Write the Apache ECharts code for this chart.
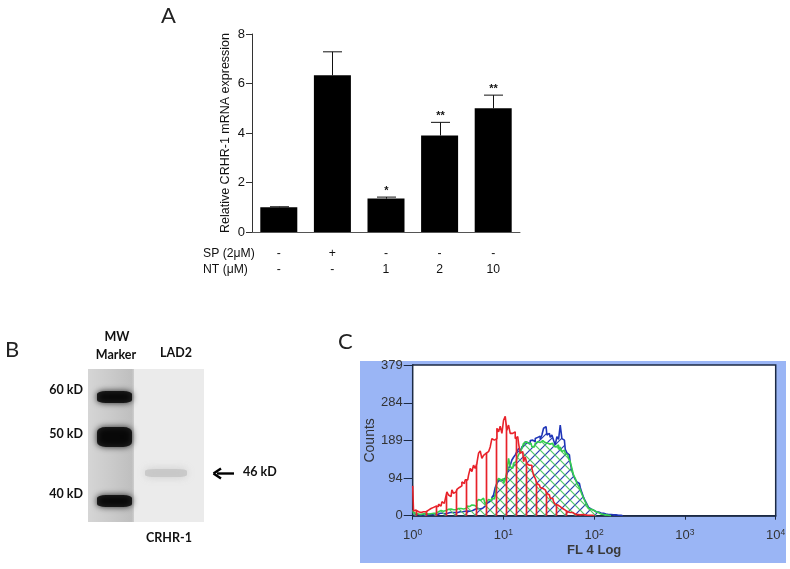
<!DOCTYPE html>
<html>
<head>
<meta charset="utf-8">
<style>html,body{margin:0;padding:0;background:#fff}#c{width:790px;height:569px}</style>
<script src="https://cdn.jsdelivr.net/npm/echarts@6/dist/echarts.min.js"></script>
</head>
<body>
<div id="c"></div>
<script>
// Panel A
const spRow = ['-', '+', '-', '-', '-'];
const ntRow = ['-', '-', '1', '2', '10'];
const meanExpr = [1.0, 6.33, 1.35, 3.9, 5.0];
const errTop = [1.02, 7.28, 1.41, 4.43, 5.53];
const stars = ['', '', '*', '**', '**'];
const exprTicks = [0, 2, 4, 6, 8];

// Panel C: histogram counts, one per bin
const binWidthDecades = 0.01837;
const redCounts = [75,12,14,10,12,8,10,13,10,14,10,18,21,16,24,23,29,24,35,31,41,60,52,48,65,56,60,66,71,75,85,81,90,90,102,119,111,127,119,132,157,163,144,152,157,161,165,173,194,190,194,220,211,225,207,240,250,215,228,207,207,211,194,199,182,157,161,136,148,131,127,127,119,102,94,81,77,71,69,65,60,56,52,44,44,35,29,27,23,21,18,14,13,10,8,6,8,4,3,3,2,3,3,2,2,1,1,1,1,0];
const blueCounts = [6,3,2,3,2,2,3,2,3,2,3,2,3,3,4,3,6,4,6,5,8,6,8,7,8,8,9,8,10,9,10,11,10,12,11,13,13,16,14,18,17,21,19,24,28,31,35,39,46,52,71,81,90,87,91,90,96,105,119,127,140,147,153,161,169,165,173,178,186,184,180,189,190,186,194,197,200,192,203,220,224,203,207,197,203,190,178,199,192,228,194,190,167,158,153,133,113,100,91,85,81,71,58,46,37,29,21,17,14,13,10,9,8,7,6,4,4,3,3,3,2,2,2,1,1,1,0];
const greenCounts = [14,8,6,4,6,3,5,3,6,4,7,5,6,8,6,10,9,13,11,15,13,16,14,17,15,18,15,18,16,18,17,21,18,24,23,27,23,26,23,35,41,39,44,39,29,35,41,38,44,42,52,85,94,90,93,81,90,111,144,123,119,132,136,144,153,161,169,182,186,182,178,182,173,173,182,186,184,186,189,184,186,182,180,178,182,175,173,178,167,173,161,165,157,153,144,136,119,102,94,81,75,65,54,44,35,27,18,16,14,13,10,8,6,4,3,3,2,1,1,0];
const countTicks = [0, 94, 189, 284, 379];

// Panel B: blot bands, positions inside the membrane
const markerBands = [[26.5, 28], [26.5, 68], [26.5, 132]];
const sampleBand = [[78, 104]];
const markerLabels = ['60 kD', '50 kD', '40 kD'];

const toBins = counts => counts.map((c, i) => [Math.pow(10, i * binWidthDecades), c]);

function hatch(color, kind) {
  const p = 10, cv = document.createElement('canvas');
  cv.width = p; cv.height = p;
  const g = cv.getContext('2d');
  g.strokeStyle = color; g.lineWidth = 1.2;
  g.beginPath();
  if (kind === 'v') { g.lineWidth = 1.7; g.moveTo(6.5, 0); g.lineTo(6.5, p); }
  else if (kind === 'up') { g.moveTo(-1, p + 1); g.lineTo(p + 1, -1); g.moveTo(-1, 1); g.lineTo(1, -1); g.moveTo(p - 1, p + 1); g.lineTo(p + 1, p - 1); }
  else { g.moveTo(-1, -1); g.lineTo(p + 1, p + 1); g.moveTo(p - 1, -1); g.lineTo(p + 1, 1); g.moveTo(-1, p - 1); g.lineTo(1, p + 1); }
  g.stroke();
  return { image: cv, repeat: 'repeat' };
}

const histo = (name, counts, color, hatchColor, kind, z) => ({
  name, type: 'line', xAxisIndex: 1, yAxisIndex: 1, data: toBins(counts), step: 'middle',
  showSymbol: false, symbol: 'none', z,
  lineStyle: { color, width: 1.6 },
  areaStyle: { color: hatch(hatchColor, kind), opacity: 1 }
});

const arial = '"Liberation Sans", Arial, sans-serif';
const lato = 'Lato, "Open Sans", sans-serif';
const blotFont = 'bold 12.5px ' + lato;
const txt = (x, y, text, font, extra) => ({
  type: 'text', x, y, silent: true,
  style: Object.assign({ text, font, fill: '#111', textAlign: 'left', textVerticalAlign: 'middle' }, extra || {})
});
const ln = (x1, y1, x2, y2, w) => ({ type: 'line', shape: { x1, y1, x2, y2 }, style: { stroke: '#000', lineWidth: w || 1 }, silent: true });
const tri = pts => ({ type: 'polygon', shape: { points: pts }, style: { fill: '#000' }, silent: true });

const option = {
  animation: false,
  backgroundColor: '#fff',
  graphic: [
    { type: 'rect', z: -100, shape: { x: 360, y: 361, width: 426, height: 202 }, style: { fill: '#9ab5f5' }, silent: true },
    txt(161, 16, 'A', '22px ' + lato, { fill: '#222' }),
    txt(5, 350, 'B', '22px ' + lato, { fill: '#222' }),
    txt(338, 342, 'C', '22px ' + lato, { fill: '#222' }),
    txt(203, 254, 'SP (2\u03bcM)', '12.2px ' + arial),
    txt(203, 270, 'NT (\u03bcM)', '12.2px ' + arial),
    txt(117, 337, 'MW', blotFont, { textAlign: 'center' }),
    txt(116, 355, 'Marker', blotFont, { textAlign: 'center' }),
    txt(176, 353, 'LAD2', blotFont, { textAlign: 'center' }),
    txt(83, 390, markerLabels[0], blotFont, { textAlign: 'right' }),
    txt(83, 434, markerLabels[1], blotFont, { textAlign: 'right' }),
    txt(83, 494, markerLabels[2], blotFont, { textAlign: 'right' }),
    txt(243, 472, '46 kD', blotFont),
    txt(169, 538, 'CRHR-1', blotFont, { textAlign: 'center' }),
    ln(217, 473.5, 234, 473.5, 2.4),
    ln(213.5, 473.5, 221, 468.5, 2.4),
    ln(213.5, 473.5, 221, 478.5, 2.4),
    txt(420, 447, 'Control', '12px ' + arial),
    txt(591, 437, 'NT 10 \u03bcM', '13.5px ' + arial),
    ln(442, 458, 461, 470.5),
    tri([[465, 473], [457, 471], [460.5, 466]]),
    ln(607, 443, 588, 455.5),
    tri([[584, 458], [589.5, 451.5], [592.5, 456.5]])
  ],
  grid: [
    { left: 252, top: 34, width: 268, height: 198 },
    { left: 412.7, top: 365, width: 363, height: 150.7, show: true, backgroundColor: '#fff', borderColor: '#1c2a44', borderWidth: 1.5, z: 1 },
    { left: 88, top: 369, width: 116, height: 153, show: true, backgroundColor: '#ebebeb', borderWidth: 0 }
  ],
  xAxis: [
    {
      type: 'category', gridIndex: 0, data: spRow.map((s, i) => s + '\n' + ntRow[i]),
      axisTick: { show: false }, axisLine: { lineStyle: { color: '#555' } },
      axisLabel: { color: '#111', fontFamily: arial, fontSize: 12.2, lineHeight: 16, margin: 14, interval: 0 }
    },
    {
      type: 'log', logBase: 10, gridIndex: 1, min: 1, max: 10000,
      name: 'FL 4 Log', nameLocation: 'middle', nameGap: 28,
      nameTextStyle: { color: '#3a3a3a', fontFamily: arial, fontSize: 13, fontWeight: 'bold' },
      splitLine: { show: false }, minorTick: { show: false },
      axisLine: { lineStyle: { color: '#1c2a44', width: 1.5 } },
      axisTick: { length: 4, lineStyle: { color: '#1c2a44' } },
      axisLabel: {
        margin: 12, color: '#333', hideOverlap: false, showMinLabel: true, showMaxLabel: true,
        formatter: v => '{b|10}{s|' + Math.round(Math.log10(v)) + '}',
        rich: {
          b: { fontFamily: arial, fontSize: 13, color: '#333' },
          s: { fontFamily: arial, fontSize: 8.5, color: '#333', verticalAlign: 'top', padding: [0, 0, 6, 0] }
        }
      }
    },
    { type: 'value', gridIndex: 2, min: 0, max: 116, show: false }
  ],
  yAxis: [
    {
      type: 'value', gridIndex: 0, min: 0, max: 8, interval: 2,
      name: 'Relative CRHR-1 mRNA expression', nameLocation: 'middle', nameGap: 20,
      nameTextStyle: { color: '#111', fontFamily: arial, fontSize: 12.5 },
      splitLine: { show: false },
      axisLine: { show: true, lineStyle: { color: '#333' } },
      axisTick: { show: true, length: 6, lineStyle: { color: '#333' } },
      axisLabel: { color: '#111', fontFamily: arial, fontSize: 13, margin: 7, customValues: exprTicks }
    },
    {
      type: 'value', gridIndex: 1, min: 0, max: 379,
      name: 'Counts', nameLocation: 'middle', nameGap: 33,
      nameTextStyle: { color: '#333', fontFamily: arial, fontSize: 14 },
      splitLine: { show: false },
      axisLine: { show: true, lineStyle: { color: '#1c2a44', width: 1.5 } },
      axisTick: { show: true, length: 9, customValues: countTicks, lineStyle: { color: '#1c2a44' } },
      axisLabel: { color: '#333', fontFamily: arial, fontSize: 13, margin: 10, customValues: countTicks }
    },
    { type: 'value', gridIndex: 2, min: 0, max: 153, inverse: true, show: false }
  ],
  series: [
    {
      name: 'CRHR-1 mRNA', type: 'bar', xAxisIndex: 0, yAxisIndex: 0, data: meanExpr, barWidth: 37,
      itemStyle: { color: '#000' }
    },
    {
      name: 'SEM', type: 'custom', xAxisIndex: 0, yAxisIndex: 0,
      data: errTop.map((t, i) => [i, meanExpr[i], t, stars[i]]),
      encode: { x: 0, y: 2 },
      renderItem: (p, api) => {
        const b = api.coord([api.value(0), api.value(1)]);
        const t = api.coord([api.value(0), api.value(2)]);
        const x = Math.round(b[0]) + 0.5, cap = 9.5;
        const st = { stroke: '#111', lineWidth: 1 };
        return {
          type: 'group', children: [
            { type: 'line', shape: { x1: x, y1: b[1], x2: x, y2: t[1] }, style: st },
            { type: 'line', shape: { x1: x - cap, y1: t[1], x2: x + cap, y2: t[1] }, style: st },
            { type: 'text', x, y: t[1] - 6, style: { text: api.value(3), font: 'bold 11px ' + arial, fill: '#111', textAlign: 'center', textVerticalAlign: 'middle' } }
          ]
        };
      }
    },
    histo('NT 10 \u03bcM (blue)', blueCounts, '#1f35b8', '#2a3fb0', 'up', 3),
    histo('NT 10 \u03bcM (green)', greenCounts, '#35d04e', '#52c968', 'down', 4),
    histo('Control', redCounts, '#e8222a', '#e8222a', 'v', 5),
    {
      name: 'Lane', type: 'scatter', xAxisIndex: 2, yAxisIndex: 2, data: [[23, 76.5]], symbol: 'rect', symbolSize: [46, 153],
      itemStyle: {
        color: { type: 'linear', x: 0, y: 0, x2: 1, y2: 0, colorStops: [
          { offset: 0, color: '#d0d0d0' }, { offset: 0.5, color: '#c2c2c2' }, { offset: 0.95, color: '#b4b4b4' }, { offset: 1, color: '#c8c8c8' }
        ] }
      }, z: 1, silent: true
    },
    {
      name: 'Markers', type: 'scatter', xAxisIndex: 2, yAxisIndex: 2, data: markerBands, symbol: 'roundRect',
      symbolSize: (v, p) => [35, p.dataIndex === 1 ? 20 : 12],
      itemStyle: { color: '#000', shadowBlur: 6, shadowColor: '#000' }, z: 2, silent: true
    },
    {
      name: 'LAD2', type: 'scatter', xAxisIndex: 2, yAxisIndex: 2, data: sampleBand, symbol: 'roundRect', symbolSize: [42, 8],
      itemStyle: { color: '#c4c4c4', shadowBlur: 8, shadowColor: '#c4c4c4' }, z: 2, silent: true
    }
  ]
};
const chart = echarts.init(document.getElementById('c'), null, { renderer: 'canvas' });
chart.setOption(option);
</script>
</body>
</html>
